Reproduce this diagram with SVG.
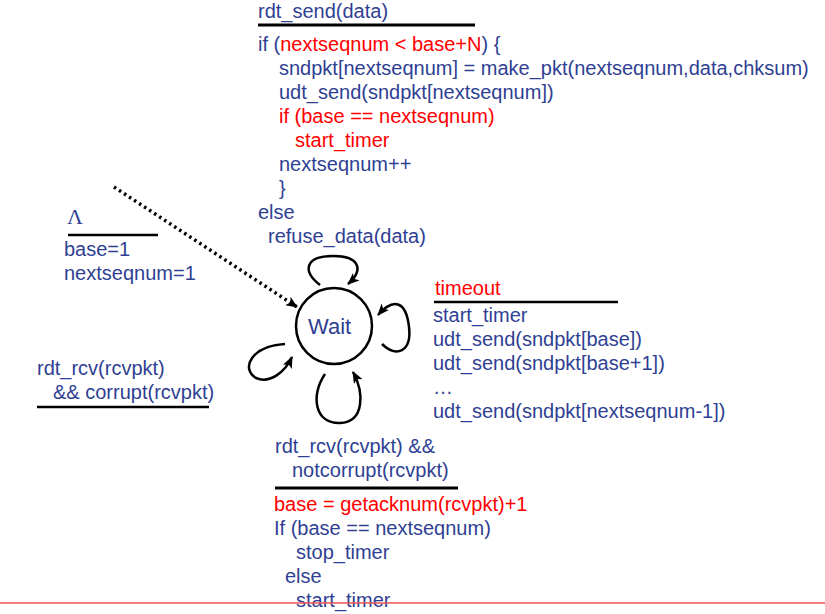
<svg xmlns="http://www.w3.org/2000/svg" width="825" height="614" viewBox="0 0 825 614">
<defs>
<style>
text{font-family:"Liberation Sans",Arial,sans-serif;font-size:20px;fill:#2f3f93}
.r{fill:#ff0000}
.bar{stroke:#000;stroke-width:3;fill:none}
.loop{stroke:#000;stroke-width:2.5;fill:none}
</style>
<marker id="ah" markerUnits="userSpaceOnUse" markerWidth="12" markerHeight="10" refX="11" refY="5" orient="auto">
<path d="M0,0 L12,5 L0,10 L3,5 z" fill="#000"/>
</marker>
</defs>
<rect width="825" height="614" fill="#fff"/>

<g id="connectors">
<line x1="114" y1="187" x2="297" y2="307" stroke="#000" stroke-width="3.5" stroke-dasharray="2.5 3.5" marker-end="url(#ah)"/>
<path class="loop" d="M320,285 C302,271 305,256 333,256 C360,256 364,270 348,284" marker-end="url(#ah)"/>
<path class="loop" d="M382,344 C396,358 412,352 409,327 C406,300 393,298 378,315" marker-end="url(#ah)"/>
<path class="loop" d="M285,344 C252,346 240,368 256,378 C270,384 285,372 292,357" marker-end="url(#ah)"/>
<path class="loop" d="M325,374 C310,396 315,424 340,423 C365,422 364,392 353,372" marker-end="url(#ah)"/>
</g>

<g id="wait">
<circle cx="334" cy="326" r="38" fill="none" stroke="#000" stroke-width="2.5"/>
<text x="308" y="334" style="font-size:22px">Wait</text>
</g>

<g id="label-send">
<text x="258" y="18">rdt_send(data)</text>
<line class="bar" x1="258" y1="25" x2="475" y2="25"/>
<text x="258" y="51">if (<tspan class="r">nextseqnum &lt; base+N</tspan>) {</text>
<text x="279" y="75">sndpkt[nextseqnum] = make_pkt(nextseqnum,data,chksum)</text>
<text x="279" y="99">udt_send(sndpkt[nextseqnum])</text>
<text x="279" y="123" class="r">if (base == nextseqnum)</text>
<text x="295" y="147" class="r">start_timer</text>
<text x="279" y="171">nextseqnum++</text>
<text x="279" y="195">}</text>
<text x="258" y="219">else</text>
<text x="268" y="243">refuse_data(data)</text>
</g>

<g id="label-init">
<text x="67" y="224" style="font-family:'Liberation Serif','Times New Roman',serif;font-size:22px">Λ</text>
<line class="bar" x1="68" y1="235" x2="158" y2="235" style="stroke-width:2.5"/>
<text x="64" y="256">base=1</text>
<text x="64" y="280">nextseqnum=1</text>
</g>

<g id="label-corrupt">
<text x="37" y="375">rdt_rcv(rcvpkt)</text>
<text x="53" y="399">&amp;&amp; corrupt(rcvpkt)</text>
<line class="bar" x1="37" y1="407" x2="209" y2="407" style="stroke-width:2.5"/>
</g>

<g id="label-timeout">
<text x="435" y="295" class="r">timeout</text>
<line class="bar" x1="434" y1="302" x2="618" y2="302" style="stroke-width:2.5"/>
<text x="433" y="322">start_timer</text>
<text x="433" y="346">udt_send(sndpkt[base])</text>
<text x="433" y="370">udt_send(sndpkt[base+1])</text>
<text x="433" y="394">…</text>
<text x="433" y="418">udt_send(sndpkt[nextseqnum-1])</text>
</g>

<g id="label-ack">
<text x="275" y="453">rdt_rcv(rcvpkt) &amp;&amp;</text>
<text x="292" y="477">notcorrupt(rcvpkt)</text>
<line class="bar" x1="275" y1="488" x2="458" y2="488"/>
<text x="274" y="511" class="r">base = getacknum(rcvpkt)+1</text>
<text x="274" y="535">If (base == nextseqnum)</text>
<text x="296" y="559">stop_timer</text>
<text x="285" y="583">else</text>
<text x="296" y="607">start_timer</text>
</g>

<line x1="0" y1="603" x2="825" y2="603" stroke="#ee5555" stroke-width="1.5"/>
</svg>
